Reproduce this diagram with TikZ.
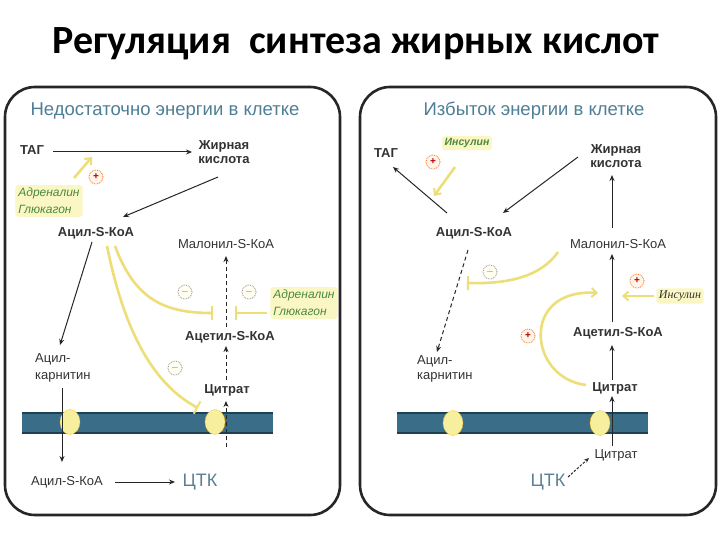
\documentclass[tikz,border=0pt]{standalone}
\usepackage{fontspec}
\setmainfont{Liberation Sans}
\newfontfamily\titlefont{Carlito}
\newfontfamily\serifit{Liberation Serif}
\usetikzlibrary{arrows.meta,shapes.geometric}
\definecolor{labelgray}{HTML}{333333}
\definecolor{titleblue}{HTML}{4E7F96}
\definecolor{ctkblue}{HTML}{5C7F94}
\definecolor{yline}{RGB}{238,222,120}
\definecolor{memfill}{HTML}{3A6D88}
\definecolor{memedge}{HTML}{1E4050}
\definecolor{chanfill}{HTML}{F6EF9E}
\definecolor{hlbox}{HTML}{FBF7C4}
\definecolor{greentext}{HTML}{4A8A3A}
\tikzset{
  panel/.style={draw=black!85, line width=2.6pt, rounded corners=30pt},
  ptitle/.style={text=titleblue, font=\fontsize{18.5}{20}\selectfont, inner sep=0pt},
  lbl/.style={text=labelgray, font=\fontsize{13}{14}\selectfont\bfseries, inner sep=1pt},
  lblr/.style={text=labelgray, font=\fontsize{13}{14}\selectfont, inner sep=1pt},
  ctk/.style={text=ctkblue, font=\fontsize{18}{20}\selectfont, inner sep=1pt},
  arr/.style={-{Stealth[length=6pt,width=5pt]}, line width=1pt, draw=black!85},
  darr/.style={arr, dash pattern=on 4pt off 3pt},
  yarr/.style={draw=yline, line width=2.6pt, -{Straight Barb[length=5pt,width=9pt,line width=2pt]}},
  yinh/.style={draw=yline, line width=2.6pt, -{Bar[width=14pt,line width=2pt]}},
  hl/.style={fill=hlbox, rounded corners=3pt, inner sep=3pt, align=left,
    text=greentext, font=\fontsize{12}{17}\selectfont\itshape},
  plussign/.style={circle, draw=orange!80!red, densely dotted, fill=orange!8, line width=0.8pt,
    minimum size=14pt, inner sep=0pt, text=red!70!black, font=\fontsize{10}{10}\selectfont\bfseries},
  minussign/.style={circle, draw=black!45, densely dotted, fill=yellow!6, line width=0.8pt,
    minimum size=14pt, inner sep=0pt, text=black!60, font=\fontsize{10}{10}\selectfont\bfseries},
  chan/.style={ellipse, fill=chanfill, draw=orange!60!yellow, densely dotted, line width=0.6pt,
    minimum width=20pt, minimum height=25pt, inner sep=0pt}
}
\begin{document}
\begin{tikzpicture}[x=1pt,y=-1pt]
\useasboundingbox (0,0) rectangle (720,540);
\fill[white] (0,0) rectangle (720,540);
% title
\node[font=\titlefont\fontsize{40}{44}\selectfont\bfseries, text=black] (title) at (356,44) {Регуляция\ \ синтеза жирных кислот};
% panels
\draw[panel] (5,87) rectangle (340,515);
\draw[panel] (360,87) rectangle (716,515);

% ================= LEFT PANEL =================
\node[ptitle] (lt) at (165,111) {Недостаточно энергии в клетке};
% membrane
\fill[memfill] (22,413) rectangle (273,433);
\draw[memedge, line width=1.2pt] (22,413) -- (273,413) (22,433) -- (273,433);
\node[chan] (lch1) at (70,422) {};
\node[chan] (lch2) at (215,422) {};

\node[lbl] (ltag) at (32,150) {ТАГ};
\node[lbl, align=center] (lfa) at (224,152) {Жирная\\кислота};
\node[lbl] (lacyl) at (96,233) {Ацил-S-КоА};
\node[lblr] (lmal) at (226,244) {Малонил-S-КоА};
\node[lbl] (lacet) at (230,337) {Ацетил-S-КоА};
\node[lbl] (lcit) at (227,390) {Цитрат};
\node[lblr, align=left, anchor=west, font=\fontsize{13}{17}\selectfont] (lcarn) at (34,368) {Ацил-\\карнитин};
\node[lblr] (lacyl2) at (67,482) {Ацил-S-КоА};
\node[ctk] (lctk) at (200,482) {ЦТК};

\node[hl] (ladr1) at (49,201) {Адреналин\\Глюкагон};
\node[hl] (ladr2) at (304,303) {Адреналин\\Глюкагон};
\node[plussign] (lp1) at (96,177) {+};
\node[minussign] (lm1) at (185,292) {$-$};
\node[minussign] (lm2) at (249,292) {$-$};
\node[minussign] (lm3) at (175,368) {$-$};

\coordinate (la1) at (53,152);
\coordinate (la2) at (192,152);
\draw[arr] (la1) -- (la2);
\coordinate (lf1) at (218,177);
\coordinate (lf2) at (123,217);
\draw[arr] (lf1) -- (lf2);
\coordinate (ly1) at (74,178);
\coordinate (ly2) at (92,157);
\draw[yarr] (ly1) -- (ly2);
% acyl -> carnitine
\coordinate (lc1) at (92,242);
\coordinate (lc2) at (60,345);
\draw[arr] (lc1) -- (lc2);
% through membrane
\coordinate (lm1a) at (62,388);
\coordinate (lm1b) at (62,462);
\draw[arr] (lm1a) -- (lm1b);
% bottom arrow
\coordinate (lb1) at (115,482);
\coordinate (lb2) at (175,482);
\draw[arr] (lb1) -- (lb2);
% dashed vertical chain
\coordinate (ld0) at (226,447);
\coordinate (ld1) at (226,401);
\coordinate (ld2) at (226,380);
\coordinate (ld3) at (226,346);
\coordinate (ld4) at (226,327);
\coordinate (ld5) at (226,256);
\draw[darr] (ld0) -- (ld1);
\draw[darr] (ld2) -- (ld3);
\draw[darr] (ld4) -- (ld5);
% yellow inhibitions
\coordinate (lyi1) at (115,246);
\coordinate (lyi2) at (213,313);
\draw[yinh] (lyi1) .. controls (135,300) and (165,313) .. (lyi2);
\coordinate (lyi3) at (107,246);
\coordinate (lyi4) at (198,408);
\draw[yinh] (lyi3) .. controls (125,335) and (155,385) .. (lyi4);
\coordinate (lyi5) at (267,313);
\coordinate (lyi6) at (235,313);
\draw[yinh] (lyi5) -- (lyi6);

% ================= RIGHT PANEL =================
\node[ptitle] (rt) at (534,111) {Избыток энергии в клетке};
\fill[memfill] (397,413) rectangle (648,433);
\draw[memedge, line width=1.2pt] (397,413) -- (648,413) (397,433) -- (648,433);
\node[chan] (rch1) at (453,423) {};
\node[chan] (rch2) at (600,423) {};

\node[lbl] (rtag) at (386,153) {ТАГ};
\node[hl, font=\fontsize{10.5}{12}\selectfont\itshape\bfseries, inner sep=2.5pt] (rins1) at (467,143) {Инсулин};
\node[lbl, align=center] (rfa) at (616,156) {Жирная\\кислота};
\node[lbl] (racyl) at (474,233) {Ацил-S-КоА};
\node[lblr] (rmal) at (618,244) {Малонил-S-КоА};
\node[lbl] (racet) at (618,333) {Ацетил-S-КоА};
\node[lbl] (rcit) at (615,388) {Цитрат};
\node[lblr, align=left, anchor=west, font=\fontsize{13}{15}\selectfont] (rcarn) at (416,369) {Ацил-\\карнитин};
\node[lblr] (rcit2) at (616,455) {Цитрат};
\node[ctk] (rctk) at (548,482) {ЦТК};
\node[hl, font=\serifit\fontsize{12}{13}\selectfont\itshape, text=black!80, inner sep=2.5pt] (rins2) at (680,296) {Инсулин};

\node[plussign] (rp1) at (433,162) {+};
\node[minussign] (rm1) at (490,272) {$-$};
\node[plussign] (rp2) at (637,281) {+};
\node[plussign] (rp3) at (528,336) {+};

\coordinate (ra1) at (447,213);
\coordinate (ra2) at (393,167);
\draw[arr] (ra1) -- (ra2);
\coordinate (rf1) at (578,157);
\coordinate (rf2) at (503,213);
\draw[arr] (rf1) -- (rf2);
\coordinate (rv0) at (612,446);
\coordinate (rv1) at (612,396);
\coordinate (rv2) at (612,380);
\coordinate (rv3) at (612,345);
\coordinate (rv4) at (612,322);
\coordinate (rv5) at (612,254);
\coordinate (rv6) at (612,228);
\coordinate (rv7) at (612,175);
\draw[arr] (rv0) -- (rv1);
\draw[arr] (rv2) -- (rv3);
\draw[arr] (rv4) -- (rv5);
\draw[arr] (rv6) -- (rv7);
\coordinate (rc1) at (568,477);
\coordinate (rc2) at (589,458);
\draw[arr, dash pattern=on 2.5pt off 1.5pt, -{Stealth[length=5pt,width=4pt]}] (rc1) -- (rc2);
\coordinate (rd1) at (468,250);
\coordinate (rd2) at (437,352);
\draw[darr] (rd1) -- (rd2);
% yellow
\coordinate (ry1) at (455,167);
\coordinate (ry2) at (434,196);
\draw[yarr] (ry1) -- (ry2);
\coordinate (ryi1) at (558,252);
\coordinate (ryi2) at (467,283);
\draw[yinh] (ryi1) .. controls (540,278) and (505,284) .. (ryi2);
\coordinate (ryi3) at (654,296);
\coordinate (ryi4) at (622,296);
\draw[yarr] (ryi3) -- (ryi4);
\coordinate (ryc1) at (586,385);
\coordinate (ryc2) at (598,293);
\draw[yarr] (ryc1) .. controls (528,378) and (520,288) .. (ryc2);
\end{tikzpicture}
\end{document}
